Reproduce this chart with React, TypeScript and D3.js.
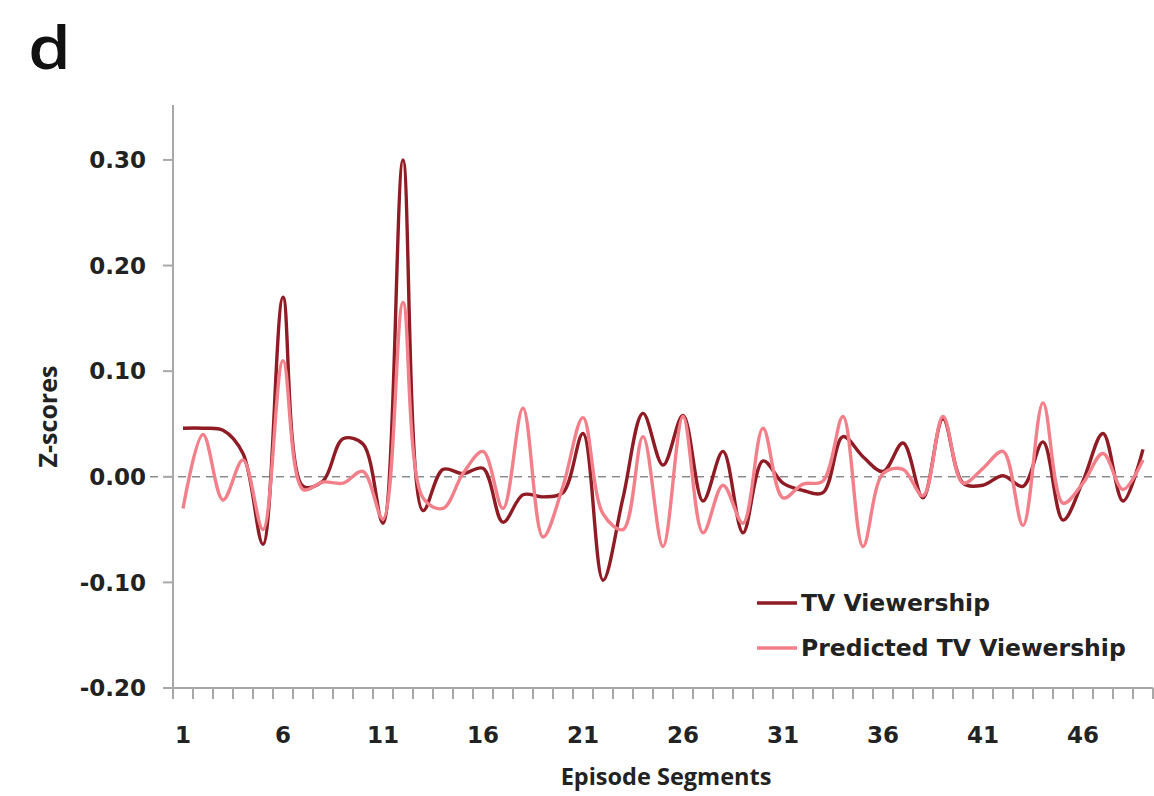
import React, { useRef, useEffect } from 'react';
import * as d3 from 'd3';

// episode segments 1..49
const segments = d3.range(1, 50);

const tvViewership = [
  0.046, 0.046, 0.044, 0.022, -0.064, 0.17, -0.009, -0.004, 0.036, 0.031,
  -0.044, 0.3, -0.032, 0.007, 0.003, 0.008, -0.043, -0.017, -0.019, -0.015,
  0.041, -0.098, -0.02, 0.06, 0.011, 0.058, -0.023, 0.024, -0.053, 0.015,
  -0.006, -0.013, -0.015, 0.038, 0.019, 0.005, 0.032, -0.02, 0.055, -0.006,
  -0.008, 0.001, -0.009, 0.033, -0.041, -0.004, 0.041, -0.023, 0.026,
];

const predicted = [
  -0.03, 0.04, -0.022, 0.016, -0.05, 0.11, -0.012, -0.005, -0.006, 0.005,
  -0.04, 0.165, -0.02, -0.03, 0.003, 0.024, -0.03, 0.065, -0.057, -0.009,
  0.056, -0.035, -0.05, 0.038, -0.066, 0.057, -0.053, -0.008, -0.044, 0.046,
  -0.02, -0.007, -0.004, 0.057, -0.066, 0.003, 0.007, -0.018, 0.057, -0.006,
  0.008, 0.024, -0.046, 0.07, -0.025, -0.006, 0.022, -0.012, 0.016,
];

const yTicks = [-0.2, -0.1, 0, 0.1, 0.2, 0.3];
const xLabels = [1, 6, 11, 16, 21, 26, 31, 36, 41, 46];

const seriesNames = ['TV Viewership', 'Predicted TV Viewership'];
const colors = ['#8f1c24', '#f2808a'];

const App = () => {
  const ref = useRef<SVGSVGElement>(null);

  useEffect(() => {
    const svg = d3.select(ref.current);
    svg.selectAll('*').remove();

    const width = 1154, height = 796;
    const left = 173, right = 1153, top = 105, bottom = 688;
    const font = 'Open Sans, Lato, sans-serif';
    const wide = 'DejaVu Sans, sans-serif';
    const textColor = '#222';
    const axisColor = '#a8a8a8';

    svg.attr('width', width).attr('height', height);

    const x = d3.scaleBand<number>().domain(segments).range([left, right]);
    const y = d3.scaleLinear().domain([-0.2, 0.352]).range([bottom, top]);
    const cx = (d: number) => (x(d) as number) + x.bandwidth() / 2;
    // excel style: plain hyphen for negatives
    const fmt = (d: number) => d3.format('.2f')(d).replace('\u2212', '-');

    // panel letter
    svg.append('text')
      .attr('transform', 'translate(28,69) scale(1.15,1)')
      .attr('font-family', font).attr('font-weight', 600).attr('font-size', 60)
      .attr('fill', '#111')
      .text('d');

    // zero reference line
    svg.append('line')
      .attr('x1', 150).attr('x2', right)
      .attr('y1', y(0)).attr('y2', y(0))
      .attr('stroke', '#8c8c8c').attr('stroke-width', 1.5)
      .attr('stroke-dasharray', '8,6');

    // y axis
    svg.append('line')
      .attr('x1', left).attr('x2', left).attr('y1', top).attr('y2', bottom)
      .attr('stroke', axisColor).attr('stroke-width', 2);

    const yg = svg.append('g');
    yg.selectAll('line').data(yTicks).enter().append('line')
      .attr('x1', left - 10).attr('x2', left)
      .attr('y1', (d) => y(d)).attr('y2', (d) => y(d))
      .attr('stroke', axisColor).attr('stroke-width', 2);
    yg.selectAll('text').data(yTicks).enter().append('text')
      .attr('x', 146).attr('y', (d) => y(d))
      .attr('dy', '0.36em')
      .attr('text-anchor', 'end')
      .attr('font-family', wide).attr('font-weight', 'bold').attr('font-size', 23)
      .attr('fill', textColor)
      .text((d) => fmt(d));

    svg.append('text')
      .attr('transform', `translate(57,${(top + bottom) / 2 + 20}) rotate(-90)`)
      .attr('text-anchor', 'middle')
      .attr('font-family', font).attr('font-weight', 'bold').attr('font-size', 25)
      .attr('fill', textColor)
      .text('Z-scores');

    // x axis
    svg.append('line')
      .attr('x1', left).attr('x2', right).attr('y1', bottom).attr('y2', bottom)
      .attr('stroke', axisColor).attr('stroke-width', 2);

    const bounds = segments.map((d) => x(d) as number).concat([right]);
    svg.append('g').selectAll('line').data(bounds).enter().append('line')
      .attr('x1', (d) => d).attr('x2', (d) => d)
      .attr('y1', bottom).attr('y2', bottom + 11)
      .attr('stroke', axisColor).attr('stroke-width', 2);

    svg.append('g').selectAll('text').data(xLabels).enter().append('text')
      .attr('x', (d) => cx(d)).attr('y', 743)
      .attr('text-anchor', 'middle')
      .attr('font-family', wide).attr('font-weight', 'bold').attr('font-size', 23)
      .attr('fill', textColor)
      .text((d) => d);

    svg.append('text')
      .attr('x', 666).attr('y', 785)
      .attr('text-anchor', 'middle')
      .attr('font-family', font).attr('font-weight', 'bold').attr('font-size', 23.5)
      .attr('fill', textColor)
      .text('Episode Segments');

    // series
    const line = d3.line<number>()
      .x((d, i) => cx(segments[i]))
      .y((d) => y(d))
      .curve(d3.curveCatmullRom.alpha(0.5));

    [tvViewership, predicted].forEach((vals, k) => {
      svg.append('path')
        .datum(vals)
        .attr('d', line)
        .attr('fill', 'none')
        .attr('stroke', colors[k])
        .attr('stroke-width', 3.4)
        .attr('stroke-linejoin', 'round');
    });

    // legend
    const lg = svg.append('g').attr('transform', 'translate(757,603)');
    seriesNames.forEach((name, k) => {
      lg.append('line')
        .attr('x1', 0).attr('x2', 40)
        .attr('y1', k * 45).attr('y2', k * 45)
        .attr('stroke', colors[k]).attr('stroke-width', 3.4);
      lg.append('text')
        .attr('x', 44).attr('y', k * 45)
        .attr('dy', '0.36em')
        .attr('font-family', wide).attr('font-weight', 'bold').attr('font-size', 23.5)
        .attr('fill', textColor)
        .text(name);
    });
  }, []);

  return <svg ref={ref} style={{ position: 'absolute', left: 0, top: 0 }}></svg>;
};

export default App;
